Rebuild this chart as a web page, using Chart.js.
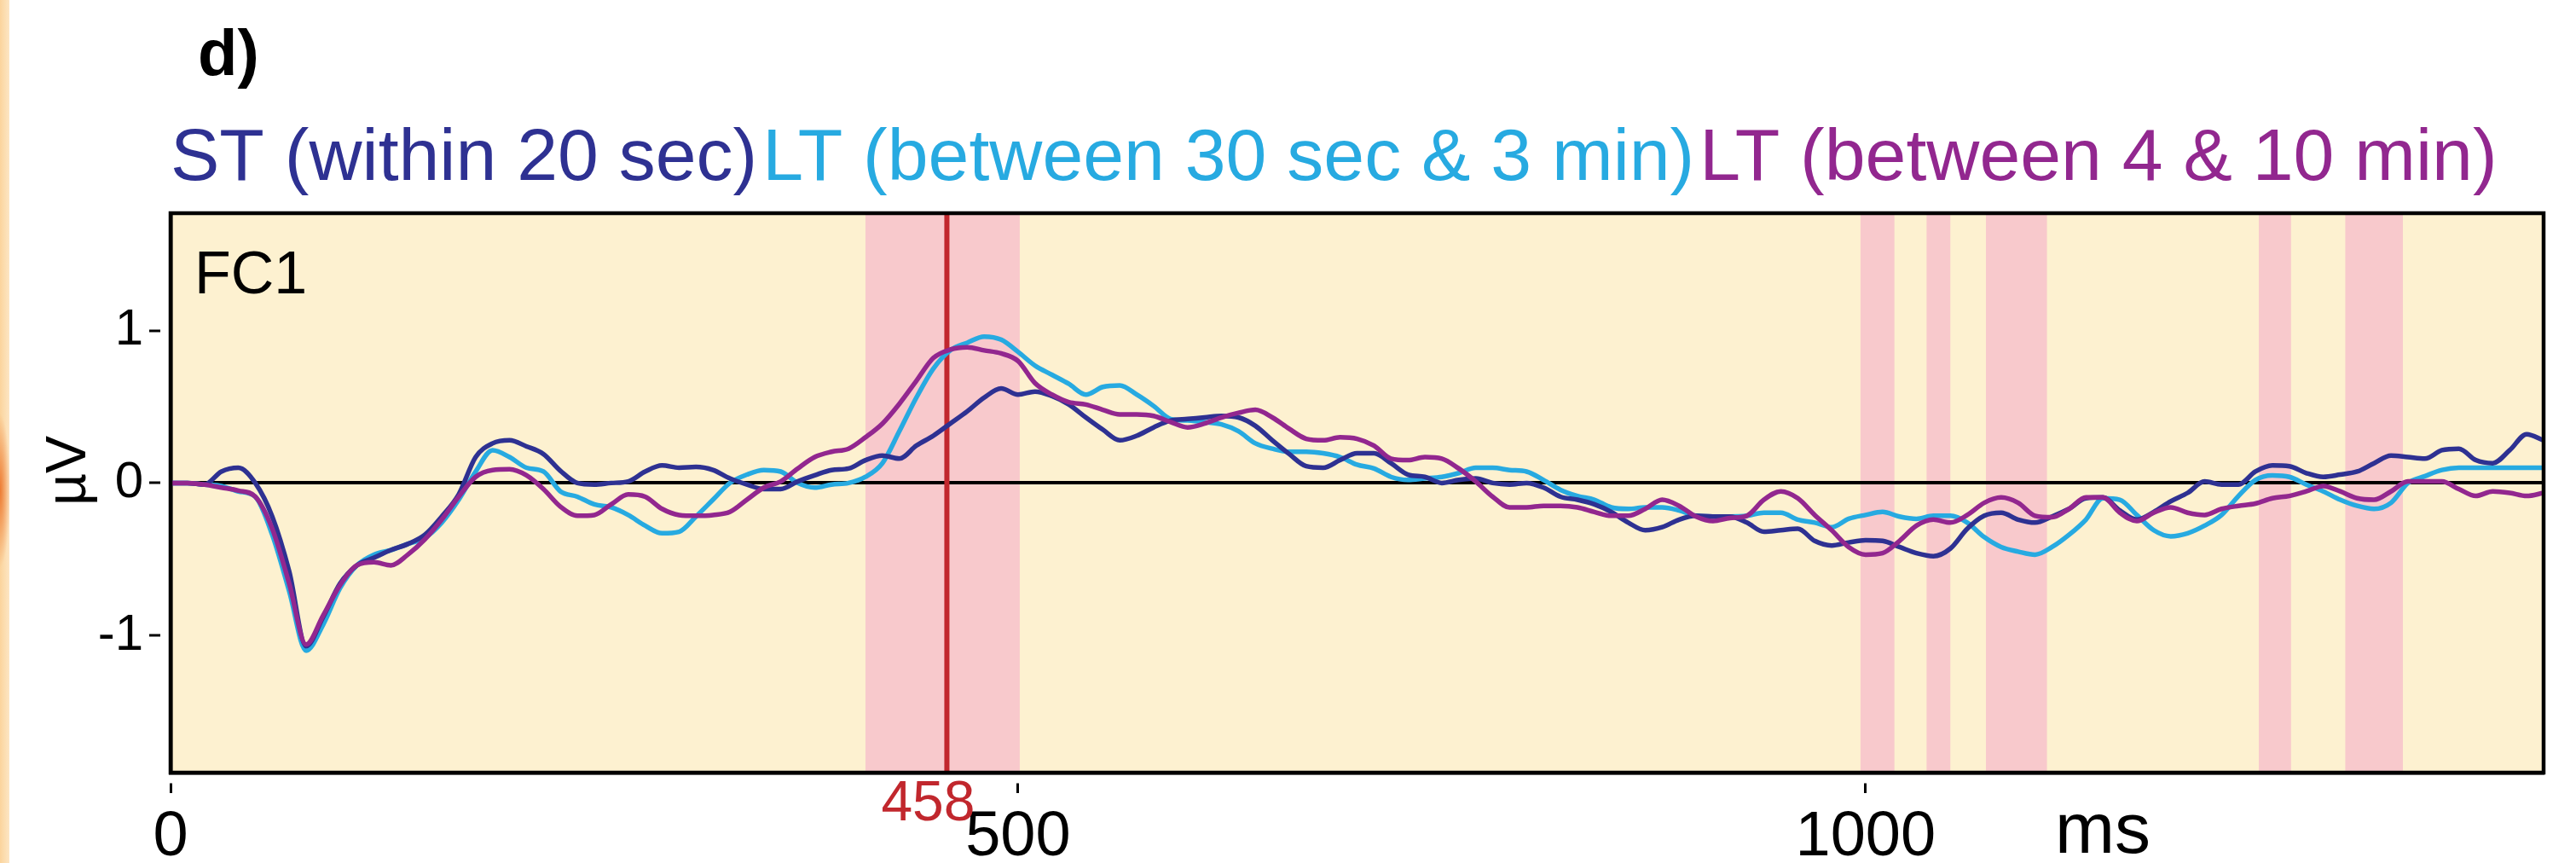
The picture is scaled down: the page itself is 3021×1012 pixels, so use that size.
<!DOCTYPE html>
<html>
<head>
<meta charset="utf-8">
<title>FC1 ERP</title>
<script src="https://cdn.jsdelivr.net/npm/chart.js@4.4.1/dist/chart.umd.min.js"></script>
<style>
    html, body { margin: 0; padding: 0; background: #ffffff; }
    #wrap { position: relative; width: 3021px; height: 1012px; overflow: hidden; }
    #edge {
        position: absolute; left: 0; top: 0; width: 11px; height: 1012px;
        background:
            radial-gradient(ellipse 12px 90px at 0 575px, rgba(236, 118, 44, 0.95), rgba(236, 118, 44, 0) 100%),
            linear-gradient(to right, #fbd49c, #fde6c4);
    }
    #erpChart { position: absolute; left: 0; top: 0; }
</style>
</head>
<body>
<div id="wrap">
    <div id="edge"></div>
    <canvas id="erpChart" width="3021" height="1012"></canvas>
</div>
<script>
// =============================================
// FC1 GRAND AVERAGE ERP, THREE RETENTION GROUPS
// =============================================

// Samples are taken every 10 ms from 0 to 1400 ms
const SAMPLE_STEP_MS = 10;

const seriesLabels = ['ST (within 20 sec)', 'LT (between 30 sec & 3 min)', 'LT (between 4 & 10 min)'];
const seriesColors = ['#2e3192', '#27aae1', '#92278f'];

// ST (within 20 sec), microvolts
const stValues = [
    0, 0, -0.01, 0.075, 0.10, 0.0, -0.22, -0.58, -1.07, -0.88,
    -0.66, -0.54, -0.49, -0.44, -0.40, -0.34, -0.22, -0.075, 0.17, 0.26,
    0.28, 0.24, 0.19, 0.08, 0.0, -0.01, 0.0, 0.01, 0.075, 0.115,
    0.10, 0.105, 0.085, 0.03, -0.01, -0.04, -0.04, 0.01, 0.05, 0.085,
    0.095, 0.15, 0.18, 0.16, 0.245, 0.31, 0.39, 0.47, 0.56, 0.62,
    0.58, 0.60, 0.57, 0.515, 0.43, 0.35, 0.28, 0.31, 0.365, 0.41,
    0.42, 0.43, 0.44, 0.43, 0.375, 0.28, 0.19, 0.11, 0.10, 0.15,
    0.195, 0.195, 0.13, 0.055, 0.04, 0.0, 0.02, 0.03, 0.0, -0.01,
    0.0, -0.03, -0.09, -0.11, -0.14, -0.19, -0.26, -0.31, -0.29, -0.24,
    -0.215, -0.22, -0.22, -0.26, -0.32, -0.31, -0.30, -0.38, -0.41, -0.39,
    -0.375, -0.38, -0.42, -0.46, -0.48, -0.43, -0.30, -0.215, -0.195, -0.24,
    -0.26, -0.22, -0.17, -0.10, -0.095, -0.18, -0.24, -0.19, -0.12, -0.065,
    0.01, -0.01, -0.01, 0.075, 0.115, 0.11, 0.065, 0.04, 0.055, 0.075,
    0.13, 0.18, 0.17, 0.16, 0.215, 0.225, 0.15, 0.13, 0.215, 0.32,
    0.28
];

// LT (between 30 sec & 3 min), microvolts
const ltEarlyValues = [
    0, 0, -0.01, -0.02, -0.055, -0.09, -0.34, -0.71, -1.10, -0.93,
    -0.69, -0.54, -0.47, -0.44, -0.40, -0.36, -0.26, -0.11, 0.075, 0.215,
    0.17, 0.10, 0.075, -0.055, -0.09, -0.14, -0.16, -0.21, -0.28, -0.33,
    -0.32, -0.22, -0.11, 0.0, 0.055, 0.085, 0.075, 0.0, -0.03, -0.01,
    0.0, 0.04, 0.13, 0.34, 0.56, 0.75, 0.87, 0.92, 0.96, 0.94,
    0.86, 0.77, 0.71, 0.65, 0.58, 0.63, 0.64, 0.58, 0.505, 0.42,
    0.41, 0.40, 0.385, 0.34, 0.26, 0.225, 0.205, 0.205, 0.195, 0.17,
    0.12, 0.095, 0.04, 0.02, 0.03, 0.04, 0.065, 0.10, 0.10, 0.085,
    0.075, 0.02, -0.045, -0.085, -0.11, -0.16, -0.17, -0.16, -0.16, -0.18,
    -0.215, -0.22, -0.22, -0.215, -0.195, -0.195, -0.24, -0.26, -0.29, -0.235,
    -0.21, -0.19, -0.22, -0.235, -0.215, -0.215, -0.26, -0.355, -0.42, -0.45,
    -0.47, -0.42, -0.34, -0.24, -0.10, -0.11, -0.21, -0.31, -0.35, -0.33,
    -0.28, -0.21, -0.085, 0.02, 0.05, 0.04, -0.01, -0.055, -0.11, -0.15,
    -0.17, -0.13, 0.0, 0.045, 0.085, 0.10, 0.10, 0.10, 0.10, 0.10,
    0.10
];

// LT (between 4 & 10 min), microvolts
const ltLateValues = [
    0, 0, -0.01, -0.03, -0.05, -0.09, -0.30, -0.66, -1.06, -0.87,
    -0.67, -0.54, -0.52, -0.54, -0.47, -0.37, -0.24, -0.09, 0.04, 0.085,
    0.09, 0.05, -0.04, -0.155, -0.215, -0.21, -0.14, -0.075, -0.09, -0.17,
    -0.21, -0.215, -0.21, -0.19, -0.11, -0.03, 0.01, 0.095, 0.17, 0.205,
    0.225, 0.30, 0.39, 0.52, 0.67, 0.82, 0.875, 0.89, 0.87, 0.85,
    0.80, 0.655, 0.58, 0.53, 0.515, 0.48, 0.45, 0.45, 0.44, 0.40,
    0.365, 0.39, 0.43, 0.46, 0.48, 0.43, 0.355, 0.29, 0.28, 0.30,
    0.29, 0.245, 0.16, 0.15, 0.17, 0.16, 0.095, 0.01, -0.09, -0.16,
    -0.16, -0.15, -0.15, -0.16, -0.19, -0.215, -0.215, -0.17, -0.11, -0.15,
    -0.22, -0.25, -0.23, -0.215, -0.11, -0.055, -0.10, -0.21, -0.31, -0.42,
    -0.47, -0.46, -0.38, -0.28, -0.24, -0.26, -0.21, -0.13, -0.095, -0.13,
    -0.215, -0.225, -0.17, -0.095, -0.095, -0.195, -0.25, -0.195, -0.16, -0.195,
    -0.21, -0.17, -0.15, -0.135, -0.10, -0.085, -0.055, -0.02, -0.055, -0.10,
    -0.11, -0.055, 0.01, 0.01, 0.01, -0.04, -0.085, -0.055, -0.065, -0.085,
    -0.065
];

// Time windows with a significant group difference, in ms
const sigWindows = [[410, 501], [997, 1017], [1036, 1050], [1071, 1107], [1232, 1251], [1283, 1317]];
const markerMs = 458;

const xTickValues = [0, 500, 1000];
const yTickValues = [-1, 0, 1];

const FONT = "'Liberation Sans', Arial, Helvetica, sans-serif";
const PANEL_BG = '#fdf1d0';
const BAND_COLOR = '#f8c9cc';
const MARKER_COLOR = '#c1272d';

function toPoints(values) {
    return values.map((v, i) => ({ x: i * SAMPLE_STEP_MS, y: v }));
}

// Panel background, significance bands, marker line, frame and annotations
const erpPanel = {
    id: 'erpPanel',
    beforeDraw(chart) {
        const { ctx, chartArea: a, scales: { x } } = chart;
        ctx.save();
        ctx.fillStyle = PANEL_BG;
        ctx.fillRect(a.left, a.top, a.width, a.height);
        ctx.fillStyle = BAND_COLOR;
        sigWindows.forEach(([start, end]) => {
            const x0 = x.getPixelForValue(start);
            const x1 = x.getPixelForValue(end);
            ctx.fillRect(x0, a.top, x1 - x0, a.height);
        });
        ctx.restore();
    },
    beforeDatasetsDraw(chart) {
        const { ctx, chartArea: a, scales: { x } } = chart;
        const px = x.getPixelForValue(markerMs);
        ctx.save();
        ctx.strokeStyle = MARKER_COLOR;
        ctx.lineWidth = 6;
        ctx.beginPath();
        ctx.moveTo(px, a.top);
        ctx.lineTo(px, a.bottom);
        ctx.stroke();
        ctx.restore();
    },
    afterDatasetsDraw(chart) {
        const { ctx, chartArea: a } = chart;
        ctx.save();
        ctx.strokeStyle = '#000';
        ctx.lineWidth = 4.5;
        ctx.strokeRect(a.left, a.top, a.width, a.height);
        ctx.restore();
    },
    afterDraw(chart) {
        const { ctx, chartArea: a, scales: { x } } = chart;
        ctx.save();
        ctx.textBaseline = 'alphabetic';
        ctx.textAlign = 'left';

        // Panel letter
        ctx.fillStyle = '#000';
        ctx.font = 'bold 76px ' + FONT;
        ctx.fillText('d)', 232, 88);

        // Coloured series names above the panel
        ctx.font = '86px ' + FONT;
        let lx = a.left;
        seriesLabels.forEach((label, i) => {
            ctx.fillStyle = seriesColors[i];
            ctx.fillText(label, lx, 211);
            lx += ctx.measureText(label).width + 6;
        });

        // Electrode name
        ctx.fillStyle = '#000';
        ctx.font = '70px ' + FONT;
        ctx.fillText('FC1', a.left + 28, 344);

        // Unit labels
        ctx.font = '84px ' + FONT;
        ctx.fillText('ms', 2410, 1000);

        ctx.save();
        ctx.translate(82, 552);
        ctx.rotate(-Math.PI / 2);
        ctx.textAlign = 'center';
        ctx.textBaseline = 'middle';
        ctx.font = '66px ' + FONT;
        ctx.fillText('\u00b5V', 0, 0);
        ctx.restore();

        // Latency of the marker line
        ctx.fillStyle = MARKER_COLOR;
        ctx.font = '66px ' + FONT;
        ctx.textAlign = 'center';
        ctx.fillText(String(markerMs), x.getPixelForValue(markerMs) - 22, 962);
        ctx.restore();
    }
};

Chart.defaults.font.family = FONT;

const chart = new Chart(document.getElementById('erpChart'), {
    type: 'line',
    data: {
        datasets: [
            {
                label: seriesLabels[0],
                data: toPoints(stValues),
                borderColor: seriesColors[0],
                order: 1
            },
            {
                label: seriesLabels[1],
                data: toPoints(ltEarlyValues),
                borderColor: seriesColors[1],
                order: 2
            },
            {
                label: seriesLabels[2],
                data: toPoints(ltLateValues),
                borderColor: seriesColors[2],
                order: 0
            }
        ]
    },
    options: {
        responsive: false,
        animation: false,
        devicePixelRatio: 1,
        layout: {
            padding: { top: 250, right: 38, bottom: 0, left: 0 }
        },
        elements: {
            line: {
                borderWidth: 5.5,
                fill: false,
                cubicInterpolationMode: 'monotone'
            },
            point: { radius: 0, hoverRadius: 0 }
        },
        plugins: {
            legend: { display: false },
            tooltip: { enabled: false }
        },
        events: [],
        scales: {
            x: {
                type: 'linear',
                min: 0,
                max: 1400,
                afterFit: scale => { scale.height = 106; },
                afterBuildTicks: scale => { scale.ticks = xTickValues.map(v => ({ value: v })); },
                border: { display: true, color: '#000', width: 4.5 },
                grid: {
                    drawOnChartArea: false,
                    drawTicks: true,
                    tickLength: 24,
                    tickWidth: 3,
                    tickColor: '#000',
                    tickBorderDash: [0, 10, 13, 100]
                },
                ticks: {
                    color: '#000',
                    padding: 8,
                    maxRotation: 0,
                    font: { size: 74 },
                    callback: v => String(v)
                }
            },
            y: {
                type: 'linear',
                min: -1.9,
                max: 1.77,
                afterFit: scale => { scale.width = 200; },
                afterBuildTicks: scale => { scale.ticks = yTickValues.map(v => ({ value: v })); },
                border: { display: true, color: '#000', width: 4.5 },
                grid: {
                    drawOnChartArea: true,
                    color: c => (c.tick && c.tick.value === 0 ? '#000' : 'rgba(0,0,0,0)'),
                    lineWidth: 4,
                    drawTicks: true,
                    tickLength: 25,
                    tickWidth: 3,
                    tickColor: '#000',
                    tickBorderDash: [13, 100]
                },
                ticks: {
                    color: '#000',
                    padding: 7,
                    font: { size: 60 },
                    callback: v => String(v)
                }
            }
        }
    },
    plugins: [erpPanel]
});
</script>
</body>
</html>
